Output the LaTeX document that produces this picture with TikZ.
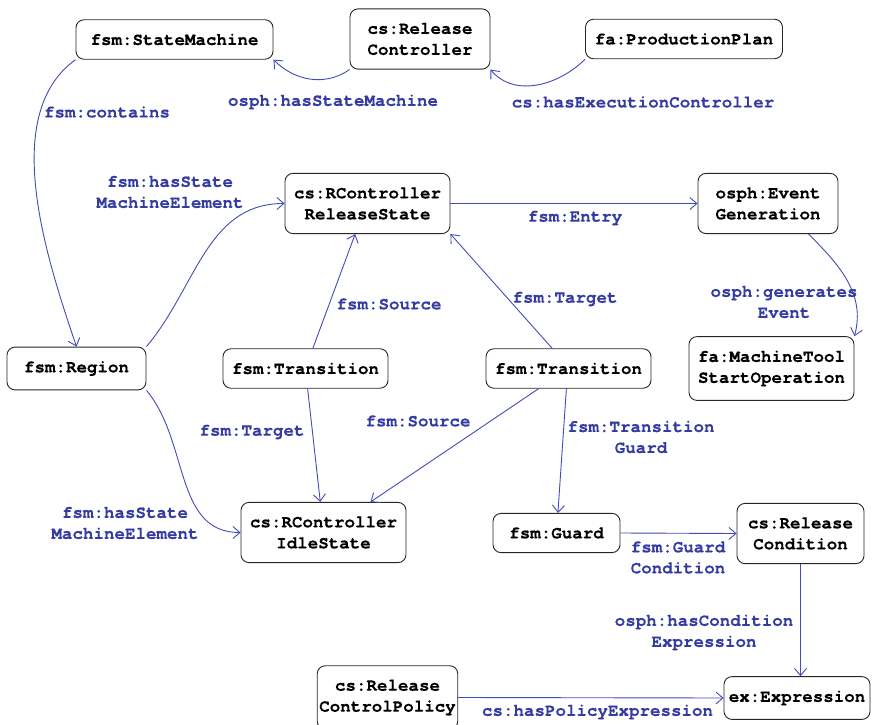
\documentclass[tikz,border=0pt]{standalone}
\usepackage{fontspec}
\usepackage{xcolor}
\usepackage{tikz}
\usetikzlibrary{arrows.meta}
\setmonofont{texgyrecursor}[Extension=.otf, UprightFont=*-regular, BoldFont=*-bold,
  BoldFeatures={FakeBold=0.35}]
\definecolor{linkblue}{RGB}{66,76,184}
\definecolor{labelblue}{RGB}{52,60,162}

\tikzset{
  res/.style={draw=black!85, line width=0.9pt, rounded corners=8pt, align=center,
    inner xsep=2pt, inner ysep=14pt, font=\ttfamily\bfseries\fontsize{17.5}{21}\selectfont},
  link/.style={draw=linkblue, line width=0.9pt, -{Straight Barb[length=7pt,width=12pt]}},
  lbl/.style={text=labelblue, align=center, inner sep=0pt,
    font=\ttfamily\bfseries\fontsize{17.5}{21}\selectfont}
}

\begin{document}
\begin{tikzpicture}[x=1pt,y=1pt]
\useasboundingbox (0,0) rectangle (872,724);

% top row
\node[res, minimum width=197pt] (stateMachine) at (174.5,684.5) {fsm:StateMachine};
\node[res, minimum width=140pt] (relController) at (420,685) {cs:Release\\Controller};
\node[res, minimum width=197pt] (prodPlan) at (684,685) {fa:ProductionPlan};

% states and event
\node[res, minimum width=165pt] (releaseState) at (367.5,520.5) {cs:RController\\ReleaseState};
\node[res, minimum width=140pt] (eventGen) at (768,520.5) {osph:Event\\Generation};

% middle row
\node[res, minimum width=139pt] (region) at (76.5,355.5) {fsm:Region};
\node[res, minimum width=165pt] (transA) at (305.5,355.5) {fsm:Transition};
\node[res, minimum width=165pt] (transB) at (568.5,355.5) {fsm:Transition};
\node[res, minimum width=165pt] (toolStart) at (771.5,355.5) {fa:MachineTool\\StartOperation};

% lower rows
\node[res, minimum width=165pt] (idleState) at (323.5,191.5) {cs:RController\\IdleState};
\node[res, minimum width=127pt] (guard) at (556.5,191) {fsm:Guard};
\node[res, minimum width=127pt] (relCondition) at (800.5,190.5) {cs:Release\\Condition};
\node[res, minimum width=146pt] (expression) at (797,26) {ex:Expression};
\node[res, minimum width=139pt] (policy) at (387.5,26.5) {cs:Release\\ControlPolicy};

% links
\draw[link] (relController.south west) to[out=-145,in=-45] (stateMachine.south east);
\draw[link] (prodPlan.south west) to[out=-135,in=-50] (relController.south east);
\draw[link] (stateMachine.south west) .. controls (0,610) and (45,470) .. (region.north);
\draw[link] (region.north east) to[out=50,in=180] (releaseState.west);
\draw[link] (region.south east) to[out=-50,in=180] (idleState.west);
\draw[link] (transA.70) -- (releaseState.-112);
\draw[link] (transA.-84) -- (idleState.96);
\draw[link] (transB.129) -- (releaseState.south east);
\draw[link] (transB.-146) -- (idleState.33);
\draw[link] (transB.-96) -- (guard.86);
\draw[link] (releaseState.east) -- (eventGen.west);
\draw[link] (eventGen.-37) to[out=-45,in=75] (toolStart.north east);
\draw[link] (guard.east) -- (relCondition.west);
\draw[link] (relCondition.south) -- (relCondition.south |- expression.north);
\draw[link] (policy.east) -- (expression.west);

% link labels
\node[lbl] (lHasSM) at (333,622) {osph:hasStateMachine};
\node[lbl] (lExecCtrl) at (643,622) {cs:hasExecutionController};
\node[lbl] (lContains) at (107,612) {fsm:contains};
\node[lbl] (lElemTop) at (170,532) {fsm:hasState\\MachineElement};
\node[lbl] (lSourceA) at (389,420) {fsm:Source};
\node[lbl] (lTargetB) at (565,425) {fsm:Target};
\node[lbl] (lEntry) at (575,506) {fsm:Entry};
\node[lbl] (lGenerates) at (784,422) {osph:generates\\Event};
\node[lbl] (lTargetA) at (252,292) {fsm:Target};
\node[lbl] (lSourceB) at (418,303) {fsm:Source};
\node[lbl] (lTransGuard) at (641,287) {fsm:Transition\\Guard};
\node[lbl] (lElemBot) at (125,201) {fsm:hasState\\MachineElement};
\node[lbl] (lGuardCond) at (678,166.5) {fsm:Guard\\Condition};
\node[lbl] (lCondExpr) at (704,91.5) {osph:hasCondition\\Expression};
\node[lbl] (lPolicyExpr) at (597.5,12) {cs:hasPolicyExpression};
\end{tikzpicture}
\end{document}
